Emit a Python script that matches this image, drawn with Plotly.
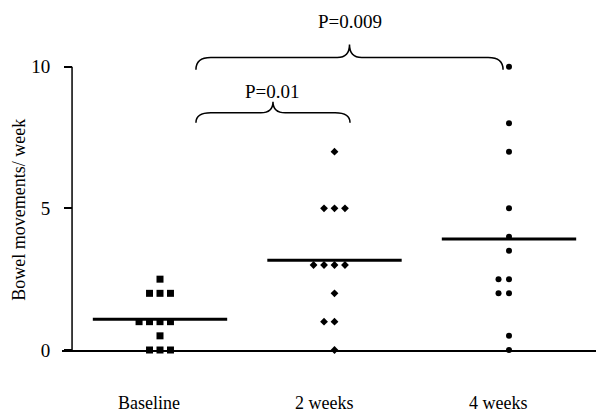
import plotly.graph_objects as go
import numpy as np

groups = ["Baseline", "2 weeks", "4 weeks"]
baseline = [2.5, 2, 2, 2, 1, 1, 1, 1, 0.5, 0, 0, 0]
weeks2 = [7, 5, 5, 5, 3, 3, 3, 3, 2, 1, 1, 0]
weeks4 = [10, 8, 7, 5, 4, 3.5, 2.5, 2.5, 2, 2, 0.5, 0]
symbols = ["square", "diamond", "circle"]
sizes = [7, 6, 6]
comparisons = [("P=0.01", 0, 1), ("P=0.009", 0, 2)]

FONT = "Liberation Serif, Times New Roman, serif"
STEP = 0.06  # horizontal spread of tied values


def spread(vals):
    # place tied values side by side, like a column scatter
    xs = []
    seen = {}
    counts = {v: vals.count(v) for v in vals}
    for v in vals:
        k = seen.get(v, 0)
        seen[v] = k + 1
        xs.append((k - counts[v] // 2) * STEP)
    return xs


fig = go.Figure()
for i, vals in enumerate([baseline, weeks2, weeks4]):
    xs = [i + 1 + d for d in spread(vals)]
    fig.add_trace(go.Scatter(x=xs, y=vals, mode="markers", cliponaxis=False,
                             marker=dict(symbol=symbols[i], size=sizes[i], color="black",
                                         line=dict(width=0)),
                             showlegend=False, hoverinfo="y"))
    m = np.mean(vals)
    fig.add_shape(type="line", x0=i + 1 - 0.385, x1=i + 1 + 0.385, y0=m, y1=m,
                  line=dict(color="black", width=3))
    fig.add_annotation(x=i + 1 - 0.063, xref="x", yref="paper", y=-0.156, text=groups[i],
                       xanchor="center", yanchor="middle", showarrow=False,
                       font=dict(size=18, color="black", family=FONT))

# y axis line (0..10 only)
fig.add_shape(type="line", x0=0.496, x1=0.496, y0=0, y1=10, line=dict(color="black", width=1.5))


def brace(xa, xb, y_end, y_h, y_pk, dx=0.085, dp=0.07):
    xc = (xa + xb) / 2
    return (f"M {xa},{y_end} Q {xa},{y_h} {xa+dx},{y_h} L {xc-dp},{y_h} "
            f"Q {xc},{y_h} {xc},{y_pk} Q {xc},{y_h} {xc+dp},{y_h} "
            f"L {xb-dx},{y_h} Q {xb},{y_h} {xb},{y_end}")


brace_y = [(8.02, 8.37, 8.76, 9.12), (9.89, 10.32, 10.78, 11.6)]
brace_x = [(1.206, 2.089), (1.206, 2.966)]
for (label, a, b), (ye, yh, yp, yt), (xa, xb) in zip(comparisons, brace_y, brace_x):
    fig.add_shape(type="path", path=brace(xa, xb, ye, yh, yp),
                  line=dict(color="black", width=1.5))
    fig.add_annotation(x=(xa + xb) / 2, y=yt, text=label, showarrow=False,
                       xanchor="center", yanchor="middle",
                       font=dict(size=19, color="black", family=FONT))

fig.add_annotation(xref="paper", x=-0.0805, y=4.95, text="Bowel movements/ week",
                   textangle=-90, showarrow=False, xanchor="center", yanchor="middle",
                   font=dict(size=18, color="black", family=FONT))

fig.update_layout(
    width=600, height=413,
    margin=dict(l=62, r=4, t=10, b=63, autoexpand=False),
    paper_bgcolor="white", plot_bgcolor="white",
    font=dict(family=FONT, size=18, color="black"),
    xaxis=dict(range=[0.4384, 3.4986], showticklabels=False, automargin=False,
               showline=True, linecolor="black", linewidth=1.5, ticks="",
               showgrid=False, zeroline=False),
    yaxis=dict(range=[0, 12], tickvals=[0, 5, 10], anchor="free", position=0.0187,
               showline=False, ticks="outside", ticklen=8, tickwidth=1.5, tickcolor="black",
               showgrid=False, zeroline=False, ticklabelstandoff=10, automargin=False,
               tickfont=dict(size=19)),
)

# drop the browser's default body margin so the figure sits at the page corner
fig.write_html("out.html", config={"displayModeBar": False},
               post_script="document.body.style.margin='0';")
